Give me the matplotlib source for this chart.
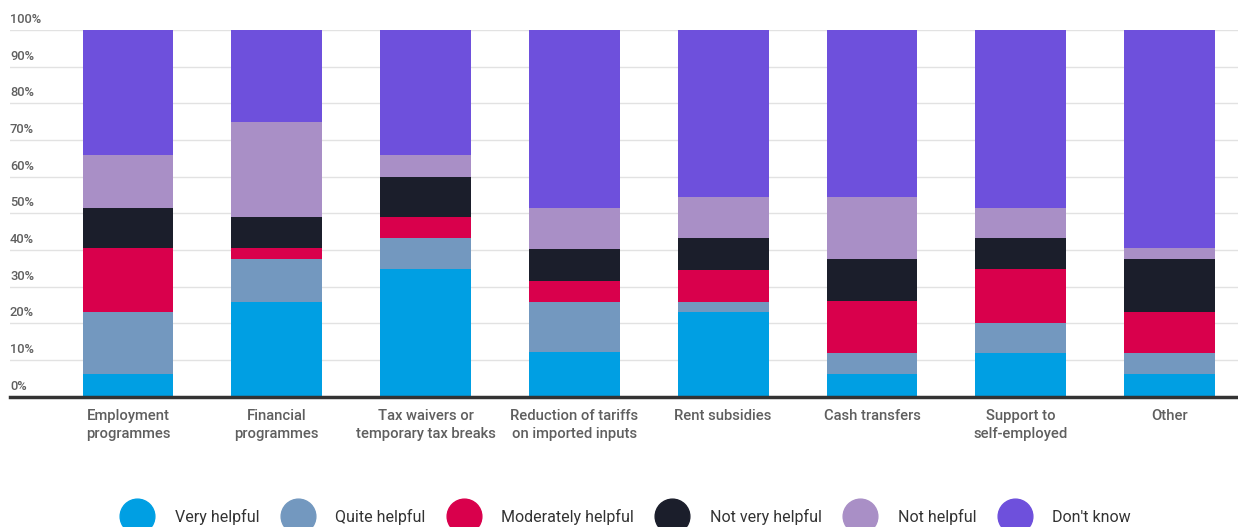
import matplotlib
matplotlib.use("Agg")
import matplotlib.pyplot as plt
import matplotlib.transforms as mtransforms
from matplotlib.lines import Line2D
import numpy as np

plt.rcParams['font.family'] = ['Roboto', 'DejaVu Sans']

categories = ["Employment\nprogrammes", "Financial\nprogrammes", "Tax waivers or\ntemporary tax breaks",
              "Reduction of tariffs\non imported inputs", "Rent subsidies", "Cash transfers",
              "Support to\nself-employed", "Other"]
series_names = ["Very helpful", "Quite helpful", "Moderately helpful", "Not very helpful",
                "Not helpful", "Don't know"]
very_helpful = [6.2, 25.7, 34.7, 12.1, 23.0, 6.2, 12.0, 6.2]
quite_helpful = [17.0, 11.8, 8.5, 13.8, 2.9, 5.8, 8.2, 5.8]
moderately_helpful = [17.3, 3.0, 5.8, 5.7, 8.7, 14.0, 14.6, 11.2]
not_very_helpful = [10.9, 8.5, 11.0, 8.8, 8.8, 11.5, 8.6, 14.3]
not_helpful = [14.5, 25.8, 5.9, 11.1, 11.0, 16.9, 8.1, 3.0]
dont_know = [34.1, 25.2, 34.1, 48.5, 45.6, 45.6, 48.5, 59.5]
yticks = [0, 10, 20, 30, 40, 50, 60, 70, 80, 90, 100]
ytick_labels = ["0%", "10%", "20%", "30%", "40%", "50%", "60%", "70%", "80%", "90%", "100%"]

colors = ["#009FE3", "#7398BF", "#D9004C", "#1B1E2B", "#A98FC6", "#6E50DC"]
series = [very_helpful, quite_helpful, moderately_helpful, not_very_helpful, not_helpful, dont_know]

W, H = 1238, 527
fig = plt.figure(figsize=(W / 100, H / 100), dpi=100)
left = 10 / W
bottom = 1 - 396.7 / H
top = 1 - 30 / H
ax = fig.add_axes([left, bottom, 1 - left, top - bottom])

x = np.arange(len(categories))
base = np.zeros(len(categories))
for vals, col in zip(series, colors):
    ax.bar(x, vals, bottom=base, width=0.61, color=col, zorder=3, linewidth=0)
    base = base + np.array(vals)

ax.set_xlim(-0.793, 7.46)
ax.set_ylim(0, 100)
ax.set_yticks(yticks)
ax.set_yticklabels([])
ax.tick_params(axis='y', length=0)
for yv in yticks[1:]:
    ax.axhline(yv, color="#e2e2e2", lw=1, zorder=1)
ax.axhline(0, color="#333333", lw=2.5, zorder=4, clip_on=False)

trans = mtransforms.offset_copy(ax.get_yaxis_transform(), fig=fig, x=0, y=3, units='points')
for yv, lab in zip(yticks, ytick_labels):
    ax.text(0, yv, lab, transform=trans, ha='left', va='bottom', fontsize=9.3,
            color="#5f5f5f", fontweight='medium')

ax.set_xticks(x)
ax.set_xticklabels(categories, fontsize=10.6, color="#5f5f5f", linespacing=1.38, fontweight='medium')
ax.tick_params(axis='x', length=0, pad=9)
for s in ax.spines.values():
    s.set_visible(False)

handles = [Line2D([], [], marker='o', linestyle='', markersize=25, color=c) for c in colors]
fig.legend(handles, series_names, loc='center', bbox_to_anchor=(0.505, 1 - 517 / H), ncol=6,
           frameon=False, fontsize=11.5, handletextpad=1.25, columnspacing=1.3,
           labelcolor="#333333", handlelength=2.2, borderpad=0, borderaxespad=0)

fig.savefig("out.png", dpi=100)
